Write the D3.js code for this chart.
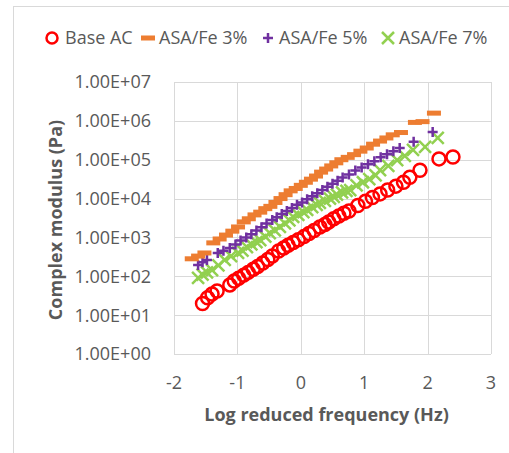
<!DOCTYPE html>
<head>
  <meta charset="utf-8">
  <title>Complex modulus</title>
  <style>
  body { margin: 0; background: #fff; }
  .grid line { stroke: #d9d9d9; stroke-width: 1; }
  .tick-label { fill: #595959; font: 18px "Open Sans", sans-serif; }
  .axis-title { fill: #595959; font: bold 18px "Open Sans", sans-serif; }
  .legend text { fill: #595959; font: 18px "Open Sans", sans-serif; }
  </style>
</head>

<svg id="vis1" class="chart"></svg>

<script src="https://cdn.jsdelivr.net/npm/d3@7"></script>

<script>
"use strict";

// dados: log da frequencia reduzida (Hz) e modulo complexo (Pa)
var seriesNames = ["Base AC", "ASA/Fe 3%", "ASA/Fe 5%", "ASA/Fe 7%"];

var baseX = [-1.55,-1.47,-1.40,-1.32,-1.12,-1.05,-0.98,-0.90,-0.83,-0.75,-0.68,-0.60,-0.52,-0.45,
  -0.35,-0.27,-0.20,-0.12,-0.04,0.05,0.13,0.21,0.30,0.38,0.44,0.52,0.60,0.68,0.76,
  0.90,1.02,1.13,1.25,1.37,1.50,1.62,1.72,1.88,2.18,2.40];
var baseY = [20,28,35,42,60,76,89,107,126,151,178,219,269,331,
  447,537,631,741,871,1050,1260,1510,1860,2140,2510,3020,3550,4170,4790,
  6610,8510,10700,13200,16600,20900,26300,35500,53700,105000,117000];

var fe3X = [-1.72,-1.62,-1.52,-1.38,-1.28,-1.18,-1.08,-0.99,-0.90,-0.82,-0.73,-0.64,-0.56,
  -0.48,-0.40,-0.32,-0.24,-0.16,-0.08,0.00,0.08,0.16,0.24,0.32,0.40,0.48,0.56,0.64,
  0.74,0.84,0.94,1.04,1.14,1.25,1.35,1.45,1.58,1.80,1.92,2.10];
var fe3Y = [282,331,398,724,912,1150,1450,1860,2510,3020,3800,4470,5500,
  6310,7940,10000,12600,15800,18200,21900,26300,31600,38000,47900,57500,69200,83200,100000,
  115000,135000,166000,200000,251000,302000,363000,437000,501000,912000,955000,1580000];

var fe5X = [-1.62,-1.55,-1.48,-1.31,-1.22,-1.12,-1.03,-0.95,-0.86,-0.78,-0.70,-0.62,-0.54,
  -0.45,-0.38,-0.30,-0.22,-0.14,-0.06,0.02,0.10,0.18,0.26,0.34,0.42,0.50,0.58,0.66,
  0.76,0.86,0.96,1.06,1.16,1.26,1.36,1.46,1.56,1.78,2.08];
var fe5Y = [195,229,263,398,457,537,661,832,1000,1200,1510,1820,2290,
  2820,3310,3980,4790,5750,6920,7940,9550,11500,13800,16600,20000,24000,28800,34700,
  41700,52500,63100,75900,91200,115000,138000,166000,200000,288000,513000];

var fe7X = [-1.62,-1.55,-1.48,-1.40,-1.30,-1.20,-1.10,-0.99,-0.92,-0.85,-0.78,-0.70,-0.64,
  -0.56,-0.49,-0.41,-0.33,-0.25,-0.18,-0.12,-0.04,0.04,0.10,0.18,0.25,0.30,0.38,0.46,
  0.52,0.57,0.65,0.72,0.78,0.88,0.98,1.08,1.18,1.25,1.38,1.52,1.64,1.77,1.96,2.16];
var fe7Y = [91,110,126,145,191,263,331,398,457,562,661,759,851,
  1050,1290,1510,1860,2290,2750,3390,3800,4470,5130,6030,6920,7760,8710,10000,
  11000,12600,14500,15800,16600,21900,26300,31600,39800,53700,69200,97700,126000,178000,214000,363000];

var xTicks = [-2, -1, 0, 1, 2, 3];
var yTicks = [1e0, 1e1, 1e2, 1e3, 1e4, 1e5, 1e6, 1e7];

var totalWidth = 509,
    totalHeight = 453;

var chart1 = d3.select("#vis1")
    .attr("width", totalWidth)
    .attr("height", totalHeight);

// moldura do grafico (estilo Excel)
chart1.append("rect")
    .attr("x", 13.5).attr("y", 6.5)
    .attr("width", 520).attr("height", 460)
    .attr("fill", "none")
    .attr("stroke", "#d9d9d9");

var margin = {top: 82, right: 18, bottom: 99, left: 174},
  width = totalWidth - margin.left - margin.right,
  height = totalHeight - margin.top - margin.bottom;

var g = chart1.append("g")
  .attr("transform", "translate(" + margin.left + "," + margin.top + ")");

var x = d3.scaleLinear().domain([-2, 3]).range([0, width]);
var y = d3.scaleLog().domain([1, 1e7]).range([height, 0]);

// grade
var grid = g.append("g").attr("class", "grid");
grid.selectAll(".gx").data(xTicks).enter().append("line")
    .attr("x1", function(d) { return Math.round(x(d)) + 0.5; })
    .attr("x2", function(d) { return Math.round(x(d)) + 0.5; })
    .attr("y1", 0).attr("y2", height);
grid.selectAll(".gy").data(yTicks).enter().append("line")
    .attr("x1", 0).attr("x2", width)
    .attr("y1", function(d) { return Math.round(y(d)) + 0.5; })
    .attr("y2", function(d) { return Math.round(y(d)) + 0.5; });

// rotulos dos eixos
g.selectAll(".xl").data(xTicks).enter().append("text")
    .attr("class", "tick-label")
    .attr("x", function(d) { return x(d); })
    .attr("y", height + 35)
    .attr("text-anchor", "middle")
    .text(function(d) { return d; });

g.selectAll(".yl").data(yTicks).enter().append("text")
    .attr("class", "tick-label")
    .attr("x", -23)
    .attr("y", function(d) { return y(d); })
    .attr("dy", "0.36em")
    .attr("text-anchor", "end")
    .text(function(d) {
      var e = Math.round(Math.log10(d));
      return "1.00E+" + (e < 10 ? "0" : "") + e;
    });

g.append("text")
    .attr("class", "axis-title")
    .attr("x", width / 2 - 6)
    .attr("y", height + 67)
    .attr("text-anchor", "middle")
    .text("Log reduced frequency (Hz)");

g.append("text")
    .attr("class", "axis-title")
    .attr("transform", "translate(" + (62 - margin.left) + "," + (height / 2 + 2) + ") rotate(-90)")
    .attr("text-anchor", "middle")
    .text("Complex modulus (Pa)");

// marcadores
function toPts(xs, ys) {
  return xs.map(function(v, i) { return {x: v, y: ys[i]}; });
}

var plot = g.append("g");

// ASA/Fe 7%: X verde
plot.selectAll(".m7").data(toPts(fe7X, fe7Y)).enter().append("path")
    .attr("transform", function(d) { return "translate(" + x(d.x) + "," + y(d.y) + ")"; })
    .attr("d", "M-6,-6L6,6M-6,6L6,-6")
    .attr("stroke", "#92d050").attr("stroke-width", 2.5).attr("fill", "none");

// ASA/Fe 5%: + roxo
plot.selectAll(".m5").data(toPts(fe5X, fe5Y)).enter().append("path")
    .attr("transform", function(d) { return "translate(" + x(d.x) + "," + y(d.y) + ")"; })
    .attr("d", "M-5,0L5,0M0,-5L0,5")
    .attr("stroke", "#7030a0").attr("stroke-width", 2.5).attr("fill", "none");

// ASA/Fe 3%: traco laranja
plot.selectAll(".m3").data(toPts(fe3X, fe3Y)).enter().append("rect")
    .attr("x", function(d) { return x(d.x) - 7; })
    .attr("y", function(d) { return y(d.y) - 2.5; })
    .attr("width", 14).attr("height", 5)
    .attr("fill", "#ed7d31");

// Base AC: circulos vermelhos
plot.selectAll(".m0").data(toPts(baseX, baseY)).enter().append("circle")
    .attr("cx", function(d) { return x(d.x); })
    .attr("cy", function(d) { return y(d.y); })
    .attr("r", 6.5)
    .attr("fill", "none")
    .attr("stroke", "#ff0000").attr("stroke-width", 2.5);

// legenda
var legendX = [52, 148, 268, 388];
var legend = chart1.append("g").attr("class", "legend")
    .attr("transform", "translate(0,38)");

var li = legend.selectAll("g").data(seriesNames).enter().append("g")
    .attr("transform", function(d, i) { return "translate(" + legendX[i] + ",0)"; });

li.each(function(d, i) {
  var s = d3.select(this);
  if (i === 0) s.append("circle").attr("r", 5.5).attr("fill", "none")
      .attr("stroke", "#ff0000").attr("stroke-width", 2.5);
  if (i === 1) s.append("rect").attr("x", -7).attr("y", -2.5).attr("width", 14).attr("height", 5)
      .attr("fill", "#ed7d31");
  if (i === 2) s.append("path").attr("d", "M-5,0L5,0M0,-5L0,5")
      .attr("stroke", "#7030a0").attr("stroke-width", 2.5);
  if (i === 3) s.append("path").attr("d", "M-6,-6L6,6M-6,6L6,-6")
      .attr("stroke", "#92d050").attr("stroke-width", 2.5);
  s.append("text").attr("x", i === 0 ? 13 : 11).attr("dy", "0.36em").text(d);
});
</script>
